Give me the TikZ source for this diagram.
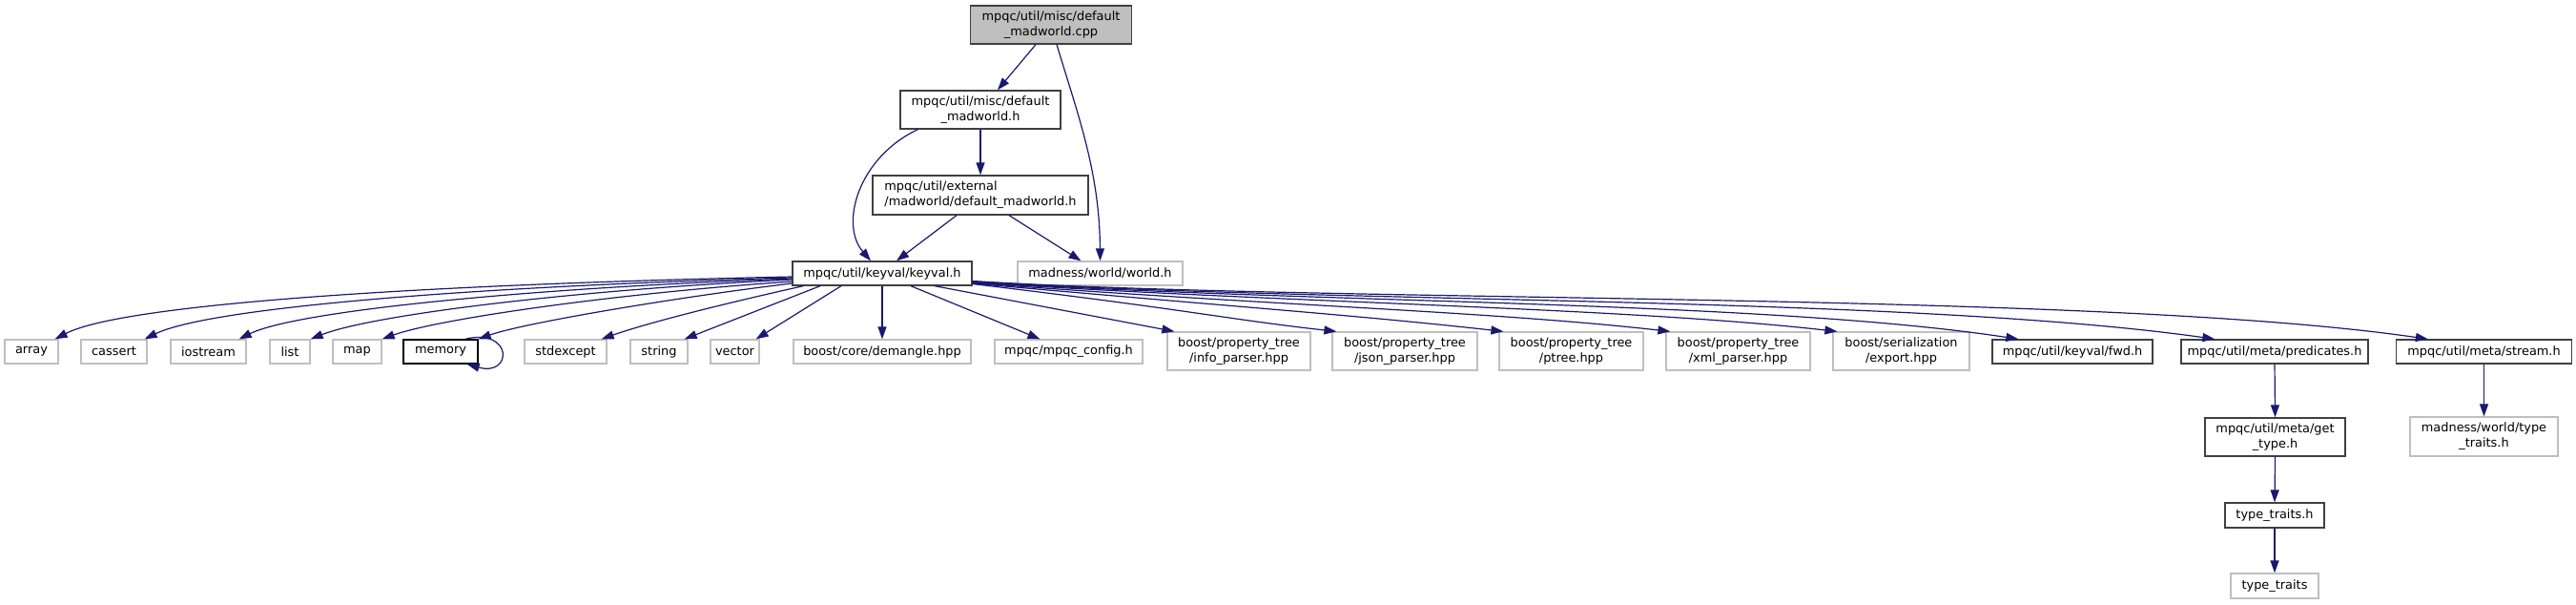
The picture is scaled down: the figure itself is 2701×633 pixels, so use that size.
\documentclass[tikz,border=0pt]{standalone}
\usepackage{fontspec}
\setmainfont{DejaVu Sans}
\usepackage{xcolor}
\usetikzlibrary{arrows.meta,calc}

\definecolor{inclblue}{HTML}{191970}
\definecolor{extgray}{HTML}{BFBFBF}
\definecolor{docgray}{HTML}{404040}

\tikzset{
  filedoc/.style={draw=docgray, line width=0.65pt, fill=white, inner sep=0pt, align=center,
    font=\fontsize{6.45}{8}\selectfont, minimum height=12.5pt},
  filext/.style={filedoc, draw=extgray},
  fileroot/.style={filedoc, fill=extgray},
  incl/.style={draw=inclblue, line width=0.6pt, -{Triangle[length=6.5pt,width=4.5pt]}}
}

\begin{document}
\begin{tikzpicture}[x=0.5pt, y=-0.5pt]
        \useasboundingbox (0,0) rectangle (2701,633);

        % Top of the graph
        \node[fileroot, minimum width=84.5pt, minimum height=20pt] (cpp) at (1102,26) {mpqc/util/misc/default\\\_madworld.cpp};
        \node[filedoc, minimum width=84pt, minimum height=20pt] (misch) at (1028,115) {mpqc/util/misc/default\\\_madworld.h};
        \node[filedoc, minimum width=113pt, minimum height=20.5pt, align=left] (ext) at (1028,204.5) {mpqc/util/external\\/madworld/default\_madworld.h};
        \node[filedoc, minimum width=94pt] (kv) at (925,286.5) {mpqc/util/keyval/keyval.h};
        \node[filext, minimum width=86.5pt] (world) at (1153.5,286.5) {madness/world/world.h};

        % Included by keyval.h
        \node[filext, minimum width=28pt] (array) at (33,368.5) {array};
        \node[filext, minimum width=34.5pt] (cassert) at (119.5,368.5) {cassert};
        \node[filext, minimum width=39.5pt] (iostream) at (218.5,368.5) {iostream};
        \node[filext, minimum width=21pt] (list) at (304,368.5) {list};
        \node[filext, minimum width=25.5pt] (map) at (374.5,368.5) {map};
        \node[filedoc, draw=black, minimum width=39pt] (memory) at (462,368.5) {memory};
        \node[filext, minimum width=43pt] (stdexcept) at (593,368.5) {stdexcept};
        \node[filext, minimum width=30pt] (string) at (691,368.5) {string};
        \node[filext, minimum width=25.5pt] (vector) at (770.5,368.5) {vector};
        \node[filext, minimum width=93pt] (demangle) at (925,368.5) {boost/core/demangle.hpp};
        \node[filext, minimum width=77.5pt] (config) at (1120.5,368.5) {mpqc/mpqc\_config.h};
        \node[filext, minimum width=75pt, minimum height=20pt] (info) at (1299,368) {boost/property\_tree\\/info\_parser.hpp};
        \node[filext, minimum width=76pt, minimum height=20pt] (json) at (1473,368) {boost/property\_tree\\/json\_parser.hpp};
        \node[filext, minimum width=75.5pt, minimum height=20pt] (ptree) at (1647.5,368) {boost/property\_tree\\/ptree.hpp};
        \node[filext, minimum width=75.5pt, minimum height=20pt] (xml) at (1822.5,368) {boost/property\_tree\\/xml\_parser.hpp};
        \node[filext, minimum width=71.5pt, minimum height=20pt] (export) at (1993.5,368) {boost/serialization\\/export.hpp};
        \node[filedoc, minimum width=84pt] (fwd) at (2173,368.5) {mpqc/util/keyval/fwd.h};
        \node[filedoc, minimum width=98pt] (pred) at (2385,368.5) {mpqc/util/meta/predicates.h};
        \node[filedoc, minimum width=92pt] (stream) at (2604.5,368.5) {mpqc/util/meta/stream.h};

        % Lower chains
        \node[filedoc, minimum width=73.5pt, minimum height=20pt] (gettype) at (2385.5,458) {mpqc/util/meta/get\\\_type.h};
        \node[filedoc, minimum width=52pt, minimum height=13pt] (tth) at (2385,540) {type\_traits.h};
        \node[filext, minimum width=46pt, minimum height=13pt] (tt) at (2385,614) {type\_traits};
        \node[filext, minimum width=77.5pt, minimum height=20.5pt] (madtt) at (2604.5,457.5) {madness/world/type\\\_traits.h};

        % Upper edges
        \draw[incl] ($(cpp.south)+(-16,0)$) -- ($(misch.north)+(18,0)$);
        \draw[incl] ($(cpp.south)+(6,0)$) .. controls (1130,120) and (1153,180) .. (world.north);
        \draw[incl] (misch.south) -- (ext.north);
        \draw[incl] ($(misch.south west)+(19,0)$) .. controls (900,165) and (880,235) .. ($(kv.north)+(-12,0)$);
        \draw[incl] ($(ext.south)+(-25,0)$) -- ($(kv.north)+(15,0)$);
        \draw[incl] ($(ext.south)+(30,0)$) -- ($(world.north)+(-20,0)$);

        % Left fan
        \draw[incl] ($(kv.west)+(0,3.5)$) .. controls (450,298) and (130,318) .. ($(array.north east)+(-4,0)$);
        \draw[incl] ($(kv.west)+(0,4.5)$) .. controls (500,300) and (220,322) .. ($(cassert.north east)+(-3,0)$);
        \draw[incl] ($(kv.west)+(0,5.5)$) .. controls (550,302) and (310,326) .. ($(iostream.north east)+(-8,0)$);
        \draw[incl] ($(kv.west)+(0,6.5)$) .. controls (600,304) and (390,330) .. (list.north east);
        \draw[incl] ($(kv.west)+(0,8.5)$) .. controls (650,307) and (460,334) .. (map.north east);
        \draw[incl] ($(kv.west)+(0,10.5)$) .. controls (720,310) and (550,338) .. (memory.north east);
        \draw[incl] ($(memory.north east)+(-14,0)$) .. controls (538,343) and (538,395) .. ($(memory.south east)+(-12,0)$);
        \draw[incl] ($(kv.south west)+(12,0)$) .. controls (760,318) and (680,338) .. ($(stdexcept.north east)+(-6,0)$);
        \draw[incl] ($(kv.south)+(-65,0)$) -- ($(string.north east)+(-4,0)$);
        \draw[incl] ($(kv.south)+(-43,0)$) -- ($(vector.north east)+(-4,0)$);
        \draw[incl] (kv.south) -- (demangle.north);
        \draw[incl] ($(kv.south)+(30,0)$) -- ($(config.north)+(-30,0)$);
        \draw[incl] ($(kv.south)+(55,0)$) -- ($(info.north west)+(8,0)$);

        % Right fan
        \draw[incl] ($(kv.east)+(0,11)$) .. controls (1250,325) and (1290,335) .. ($(json.north west)+(5,0)$);
        \draw[incl] ($(kv.east)+(0,10.5)$) .. controls (1300,322) and (1420,330) .. ($(ptree.north west)+(5,0)$);
        \draw[incl] ($(kv.east)+(0,10)$) .. controls (1330,320) and (1560,326) .. ($(xml.north west)+(5,0)$);
        \draw[incl] ($(kv.east)+(0,9.5)$) .. controls (1360,318) and (1700,322) .. ($(export.north west)+(5,0)$);
        \draw[incl] ($(kv.east)+(0,9)$) .. controls (1380,318) and (1850,315) .. ($(fwd.north west)+(28,0)$);
        \draw[incl] ($(kv.east)+(0,8.5)$) .. controls (1400,318) and (2000,310) .. ($(pred.north west)+(36,0)$);
        \draw[incl] ($(kv.east)+(0,8)$) .. controls (1400,318) and (2200,305) .. ($(stream.north west)+(34,0)$);

        % Chains below
        \draw[incl] (pred.south) -- (gettype.north);
        \draw[incl] (gettype.south) -- (tth.north);
        \draw[incl] (tth.south) -- (tt.north);
        \draw[incl] (stream.south) -- (madtt.north);
\end{tikzpicture}
\end{document}
